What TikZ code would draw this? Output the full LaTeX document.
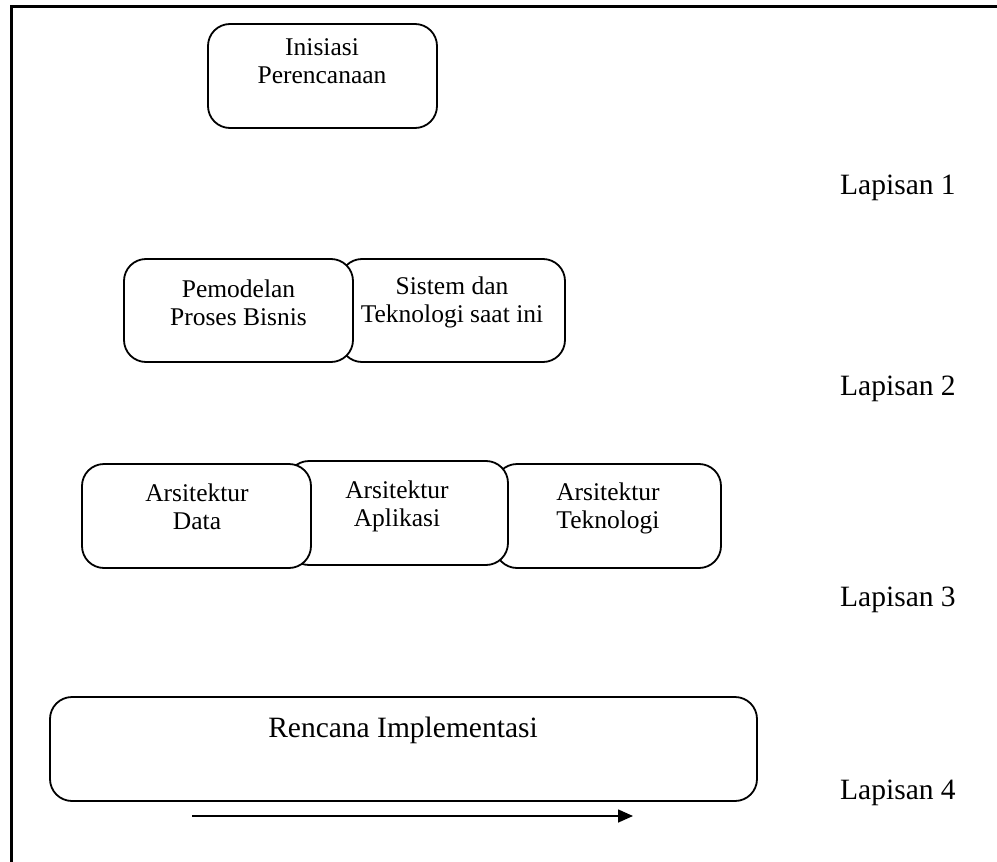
\documentclass[tikz,border=0pt]{standalone}
\usepackage{fontspec}
\setmainfont{Liberation Serif}
\usetikzlibrary{arrows.meta}
\begin{document}
\begin{tikzpicture}[x=1pt,y=-1pt,
  box/.style={draw=black,line width=1.8pt,fill=white,rounded corners=22pt,inner sep=0pt},
  btext/.style={align=center,inner sep=0pt,font=\fontsize{25.5}{28}\selectfont},
  ltext/.style={anchor=west,inner sep=0pt,font=\fontsize{29.5}{32}\selectfont},
  frame/.style={line width=3pt}]
\useasboundingbox (0,0) rectangle (997,862);
\coordinate (f1) at (11,862);
\coordinate (f2) at (11,6);
\coordinate (f3) at (997,6);
\draw[frame] (f1) -- (f2) -- (f3);
% Layer 1
\node[box,minimum width=229pt,minimum height=104pt] (b1) at (322.5,76) {};
\node[btext] (t1) at (322,61) {Inisiasi\\Perencanaan};
% Layer 2
\node[box,minimum width=225pt,minimum height=103pt] (b3) at (452.5,310.5) {};
\node[box,minimum width=229pt,minimum height=103pt] (b2) at (238.5,310.5) {};
\node[btext] (t2) at (238.5,302.5) {Pemodelan\\Proses Bisnis};
\node[btext] (t3) at (452,302.5) {Sistem dan\\Teknologi saat ini};
% Layer 3
\node[box,minimum width=226pt,minimum height=104pt] (b6) at (608,516) {};
\node[box,minimum width=221pt,minimum height=104pt] (b5) at (397.5,513) {};
\node[box,minimum width=229pt,minimum height=104pt] (b4) at (196.5,516) {};
\node[btext] (t4) at (197,507) {Arsitektur\\Data};
\node[btext] (t5) at (397,506) {Arsitektur\\Aplikasi};
\node[btext] (t6) at (608,508) {Arsitektur\\Teknologi};
% Layer 4
\node[box,minimum width=707pt,minimum height=104pt] (b7) at (403.5,749) {};
\node[inner sep=0pt,font=\fontsize{29.5}{32}\selectfont] (t7) at (403,730) {Rencana Implementasi};
\coordinate (a1) at (192,816);
\coordinate (a2) at (633,816);
\draw[line width=1.6pt,-{Triangle[length=15pt,width=13pt]}] (a1) -- (a2);
% Labels
\node[ltext] (l1) at (840,188) {Lapisan 1};
\node[ltext] (l2) at (840,389) {Lapisan 2};
\node[ltext] (l3) at (840,600) {Lapisan 3};
\node[ltext] (l4) at (840,793) {Lapisan 4};
\end{tikzpicture}
\end{document}
